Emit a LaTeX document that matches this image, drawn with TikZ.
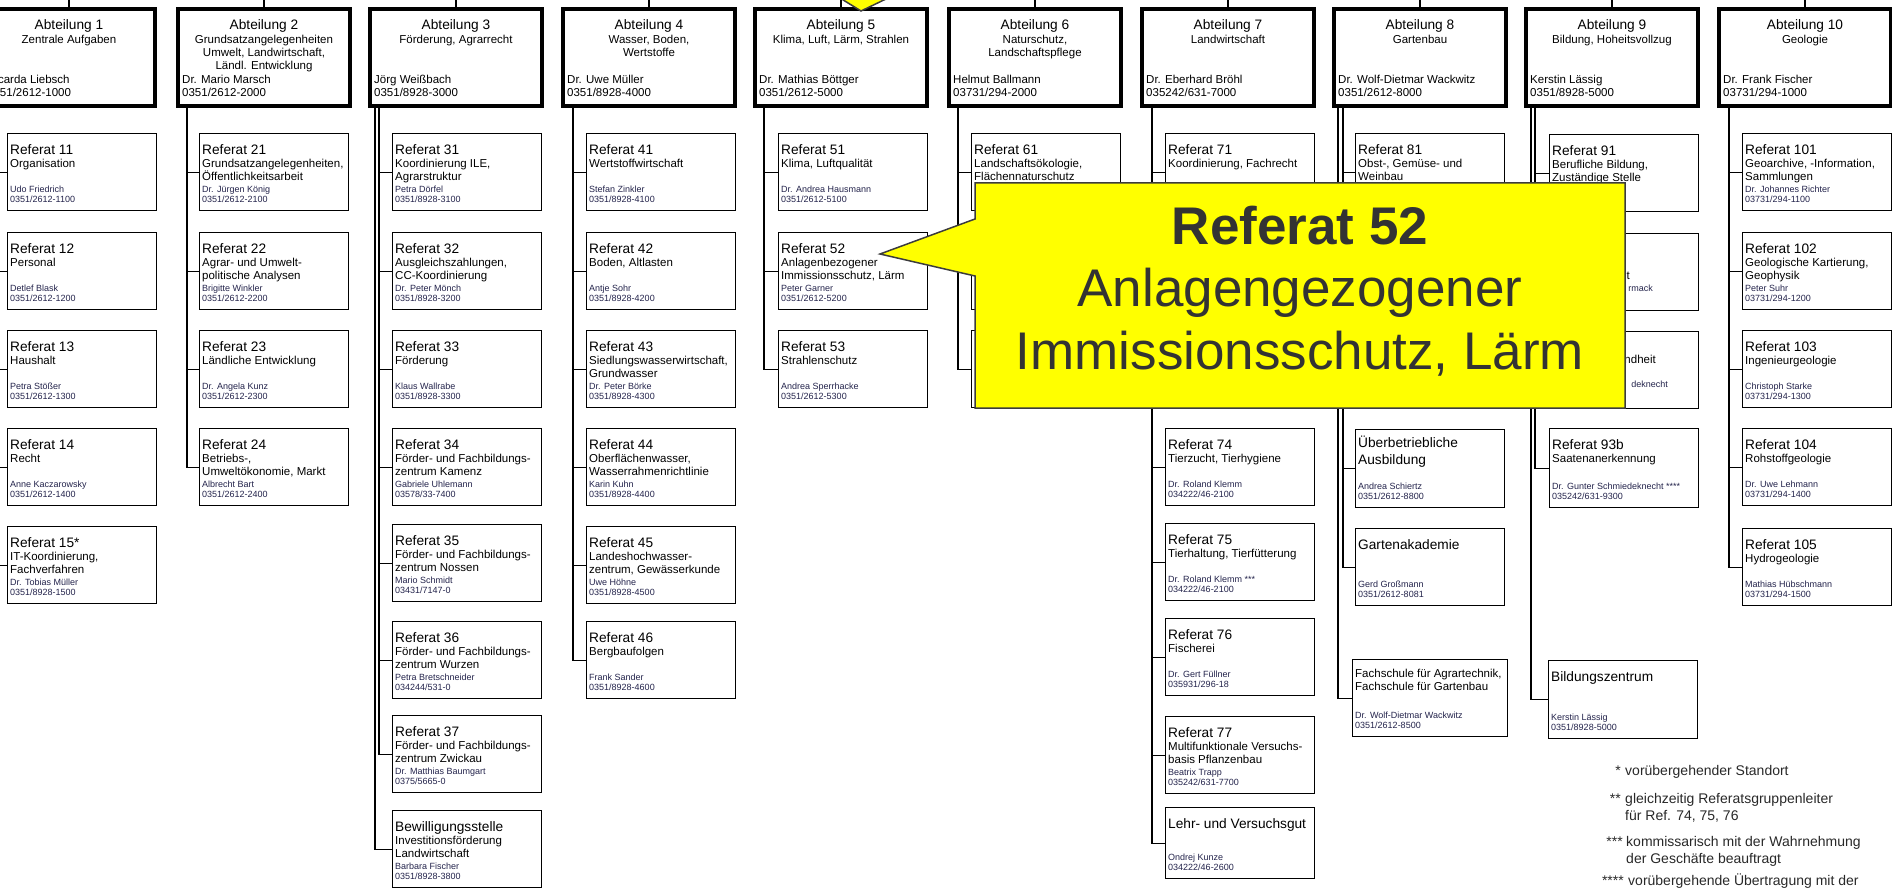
\documentclass[tikz,border=0pt]{standalone}
\usepackage{fontspec}
\setmainfont{Liberation Sans}

\definecolor{perscol}{RGB}{35,35,75}
\definecolor{calloutyellow}{RGB}{255,255,0}
\definecolor{calloutedge}{RGB}{60,60,60}
\definecolor{calltxt}{RGB}{51,51,51}
\definecolor{notecol}{RGB}{40,40,40}

\newcommand{\titfont}{\fontsize{13.7}{13.2}\selectfont}
\newcommand{\reffont}{\fontsize{11.5}{13.2}\selectfont}
\newcommand{\persfont}{\fontsize{9}{10}\selectfont}

\begin{document}
\begin{tikzpicture}[x=1pt,y=-1pt,
 abt/.style={draw,line width=4pt,minimum width=172,minimum height=97,anchor=north west,inner sep=0pt},
 abthead/.style={anchor=north,yshift=-12.5,inner sep=0pt,align=center,font=\fontsize{11.5}{13.4}\selectfont},
 abtname/.style={anchor=south west,xshift=6,yshift=11,inner sep=0pt,align=left,font=\fontsize{11.5}{13.4}\selectfont},
 refbox/.style={draw,line width=1.3pt,minimum width=149,minimum height=77,anchor=north west,inner sep=0pt},
 refhead/.style={anchor=north west,xshift=3,yshift=-11,inner sep=0pt,align=left,font=\reffont},
 refpers/.style={anchor=south west,xshift=3,yshift=9,inner sep=0pt,align=left,font=\persfont,text=perscol},
 conn/.style={line width=1.2pt},
 bubble/.style={fill=calloutyellow,draw=calloutedge,line width=1.5pt},
 bubbletext/.style={anchor=base,inner sep=0pt,text=calltxt,font=\fontsize{53}{62}\selectfont},
 note/.style={inner sep=0pt,text=notecol,font=\fontsize{14}{17}\selectfont,align=left}]
\useasboundingbox (0,0) rectangle (1892,890);

\coordinate (top) at (0,-3);
\coordinate (s1) at (-2,0);
\coordinate (s2) at (187,0);
\coordinate (s3a) at (379,0);
\coordinate (s3b) at (375,0);
\coordinate (s4) at (573,0);
\coordinate (s5) at (764,0);
\coordinate (s6) at (958,0);
\coordinate (s7) at (1152,0);
\coordinate (s8a) at (1343,0);
\coordinate (s8b) at (1338,0);
\coordinate (s9a) at (1535,0);
\coordinate (s9b) at (1531,0);
\coordinate (s10) at (1729,0);

%Abteilung 1
\node[abt] (a1) at (-19,7) {};
\node[abthead] (a1h) at (a1.north) {{\titfont Abteilung 1}\\Zentrale Aufgaben};
\node[abtname] (a1n) at (a1.south west) {Ricarda Liebsch\\0351/2612-1000};
\node[refbox] (r11) at (7,133) {};
\node[refhead] (r11h) at (r11.north west) {{\titfont Referat 11}\\Organisation};
\node[refpers] (r11p) at (r11.south west) {Udo Friedrich\\0351/2612-1100};
\node[refbox] (r12) at (7,232) {};
\node[refhead] (r12h) at (r12.north west) {{\titfont Referat 12}\\Personal};
\node[refpers] (r12p) at (r12.south west) {Detlef Blask\\0351/2612-1200};
\node[refbox] (r13) at (7,330) {};
\node[refhead] (r13h) at (r13.north west) {{\titfont Referat 13}\\Haushalt};
\node[refpers] (r13p) at (r13.south west) {Petra Stößer\\0351/2612-1300};
\node[refbox] (r14) at (7,428) {};
\node[refhead] (r14h) at (r14.north west) {{\titfont Referat 14}\\Recht};
\node[refpers] (r14p) at (r14.south west) {Anne Kaczarowsky\\0351/2612-1400};
\node[refbox] (r15) at (7,526) {};
\node[refhead] (r15h) at (r15.north west) {{\titfont Referat 15*}\\IT-Koordinierung,\\Fachverfahren};
\node[refpers] (r15p) at (r15.south west) {Dr. Tobias Müller\\0351/8928-1500};
\draw[conn] (a1.north) -- (a1.north |- top);
\foreach \r in {r11,r12,r13,r14,r15} \draw[conn] (s1 |- a1.south) |- (\r.west);

%Abteilung 2
\node[abt] (a2) at (176,7) {};
\node[abthead] (a2h) at (a2.north) {{\titfont Abteilung 2}\\Grundsatzangelegenheiten\\Umwelt, Landwirtschaft,\\Ländl. Entwicklung};
\node[abtname] (a2n) at (a2.south west) {Dr. Mario Marsch\\0351/2612-2000};
\node[refbox] (r21) at (199,133) {};
\node[refhead] (r21h) at (r21.north west) {{\titfont Referat 21}\\Grundsatzangelegenheiten,\\Öffentlichkeitsarbeit};
\node[refpers] (r21p) at (r21.south west) {Dr. Jürgen König\\0351/2612-2100};
\node[refbox] (r22) at (199,232) {};
\node[refhead] (r22h) at (r22.north west) {{\titfont Referat 22}\\Agrar- und Umwelt-\\politische Analysen};
\node[refpers] (r22p) at (r22.south west) {Brigitte Winkler\\0351/2612-2200};
\node[refbox] (r23) at (199,330) {};
\node[refhead] (r23h) at (r23.north west) {{\titfont Referat 23}\\Ländliche Entwicklung};
\node[refpers] (r23p) at (r23.south west) {Dr. Angela Kunz\\0351/2612-2300};
\node[refbox] (r24) at (199,428) {};
\node[refhead] (r24h) at (r24.north west) {{\titfont Referat 24}\\Betriebs-,\\Umweltökonomie, Markt};
\node[refpers] (r24p) at (r24.south west) {Albrecht Bart\\0351/2612-2400};
\draw[conn] (a2.north) -- (a2.north |- top);
\foreach \r in {r21,r22,r23,r24} \draw[conn] (s2 |- a2.south) |- (\r.west);

%Abteilung 3
\node[abt] (a3) at (368,7) {};
\node[abthead] (a3h) at (a3.north) {{\titfont Abteilung 3}\\Förderung, Agrarrecht};
\node[abtname] (a3n) at (a3.south west) {Jörg Weißbach\\0351/8928-3000};
\node[refbox] (r31) at (392,133) {};
\node[refhead] (r31h) at (r31.north west) {{\titfont Referat 31}\\Koordinierung ILE,\\Agrarstruktur};
\node[refpers] (r31p) at (r31.south west) {Petra Dörfel\\0351/8928-3100};
\node[refbox] (r32) at (392,232) {};
\node[refhead] (r32h) at (r32.north west) {{\titfont Referat 32}\\Ausgleichszahlungen,\\CC-Koordinierung};
\node[refpers] (r32p) at (r32.south west) {Dr. Peter Mönch\\0351/8928-3200};
\node[refbox] (r33) at (392,330) {};
\node[refhead] (r33h) at (r33.north west) {{\titfont Referat 33}\\Förderung};
\node[refpers] (r33p) at (r33.south west) {Klaus Wallrabe\\0351/8928-3300};
\node[refbox] (r34) at (392,428) {};
\node[refhead] (r34h) at (r34.north west) {{\titfont Referat 34}\\Förder- und Fachbildungs-\\zentrum Kamenz};
\node[refpers] (r34p) at (r34.south west) {Gabriele Uhlemann\\03578/33-7400};
\node[refbox] (r35) at (392,524) {};
\node[refhead] (r35h) at (r35.north west) {{\titfont Referat 35}\\Förder- und Fachbildungs-\\zentrum Nossen};
\node[refpers] (r35p) at (r35.south west) {Mario Schmidt\\03431/7147-0};
\node[refbox] (r36) at (392,621) {};
\node[refhead] (r36h) at (r36.north west) {{\titfont Referat 36}\\Förder- und Fachbildungs-\\zentrum Wurzen};
\node[refpers] (r36p) at (r36.south west) {Petra Bretschneider\\034244/531-0};
\node[refbox] (r37) at (392,715) {};
\node[refhead] (r37h) at (r37.north west) {{\titfont Referat 37}\\Förder- und Fachbildungs-\\zentrum Zwickau};
\node[refpers] (r37p) at (r37.south west) {Dr. Matthias Baumgart\\0375/5665-0};
\node[refbox] (bew) at (392,810) {};
\node[refhead] (bewh) at (bew.north west) {{\titfont Bewilligungsstelle}\\Investitionsförderung\\Landwirtschaft};
\node[refpers] (bewp) at (bew.south west) {Barbara Fischer\\0351/8928-3800};
\draw[conn] (a3.north) -- (a3.north |- top);
\foreach \r in {r31,r32,r33,r34,r35,r36,r37} \draw[conn] (s3a |- a3.south) |- (\r.west);
\draw[conn] (s3b |- a3.south) |- (bew.west);

%Abteilung 4
\node[abt] (a4) at (561,7) {};
\node[abthead] (a4h) at (a4.north) {{\titfont Abteilung 4}\\Wasser, Boden,\\Wertstoffe};
\node[abtname] (a4n) at (a4.south west) {Dr. Uwe Müller\\0351/8928-4000};
\node[refbox] (r41) at (586,133) {};
\node[refhead] (r41h) at (r41.north west) {{\titfont Referat 41}\\Wertstoffwirtschaft};
\node[refpers] (r41p) at (r41.south west) {Stefan Zinkler\\0351/8928-4100};
\node[refbox] (r42) at (586,232) {};
\node[refhead] (r42h) at (r42.north west) {{\titfont Referat 42}\\Boden, Altlasten};
\node[refpers] (r42p) at (r42.south west) {Antje Sohr\\0351/8928-4200};
\node[refbox] (r43) at (586,330) {};
\node[refhead] (r43h) at (r43.north west) {{\titfont Referat 43}\\Siedlungswasserwirtschaft,\\Grundwasser};
\node[refpers] (r43p) at (r43.south west) {Dr. Peter Börke\\0351/8928-4300};
\node[refbox] (r44) at (586,428) {};
\node[refhead] (r44h) at (r44.north west) {{\titfont Referat 44}\\Oberflächenwasser,\\Wasserrahmenrichtlinie};
\node[refpers] (r44p) at (r44.south west) {Karin Kuhn\\0351/8928-4400};
\node[refbox] (r45) at (586,526) {};
\node[refhead] (r45h) at (r45.north west) {{\titfont Referat 45}\\Landeshochwasser-\\zentrum, Gewässerkunde};
\node[refpers] (r45p) at (r45.south west) {Uwe Höhne\\0351/8928-4500};
\node[refbox] (r46) at (586,621) {};
\node[refhead] (r46h) at (r46.north west) {{\titfont Referat 46}\\Bergbaufolgen};
\node[refpers] (r46p) at (r46.south west) {Frank Sander\\0351/8928-4600};
\draw[conn] (a4.north) -- (a4.north |- top);
\foreach \r in {r41,r42,r43,r44,r45,r46} \draw[conn] (s4 |- a4.south) |- (\r.west);

%Abteilung 5
\node[abt] (a5) at (753,7) {};
\node[abthead] (a5h) at (a5.north) {{\titfont Abteilung 5}\\Klima, Luft, Lärm, Strahlen};
\node[abtname] (a5n) at (a5.south west) {Dr. Mathias Böttger\\0351/2612-5000};
\node[refbox] (r51) at (778,133) {};
\node[refhead] (r51h) at (r51.north west) {{\titfont Referat 51}\\Klima, Luftqualität};
\node[refpers] (r51p) at (r51.south west) {Dr. Andrea Hausmann\\0351/2612-5100};
\node[refbox] (r52) at (778,232) {};
\node[refhead] (r52h) at (r52.north west) {{\titfont Referat 52}\\Anlagenbezogener\\Immissionsschutz, Lärm};
\node[refpers] (r52p) at (r52.south west) {Peter Garner\\0351/2612-5200};
\node[refbox] (r53) at (778,330) {};
\node[refhead] (r53h) at (r53.north west) {{\titfont Referat 53}\\Strahlenschutz};
\node[refpers] (r53p) at (r53.south west) {Andrea Sperrhacke\\0351/2612-5300};
\draw[conn] (a5.north) -- (a5.north |- top);
\foreach \r in {r51,r52,r53} \draw[conn] (s5 |- a5.south) |- (\r.west);

%Abteilung 6
\node[abt] (a6) at (947,7) {};
\node[abthead] (a6h) at (a6.north) {{\titfont Abteilung 6}\\Naturschutz,\\Landschaftspflege};
\node[abtname] (a6n) at (a6.south west) {Helmut Ballmann\\03731/294-2000};
\node[refbox] (r61) at (971,133) {};
\node[refhead] (r61h) at (r61.north west) {{\titfont Referat 61}\\Landschaftsökologie,\\Flächennaturschutz};
\node[refbox] (r62) at (971,232) {};
\node[refbox] (r63) at (971,330) {};
\draw[conn] (a6.north) -- (a6.north |- top);
\foreach \r in {r61,r62,r63} \draw[conn] (s6 |- a6.south) |- (\r.west);

%Abteilung 7
\node[abt] (a7) at (1140,7) {};
\node[abthead] (a7h) at (a7.north) {{\titfont Abteilung 7}\\Landwirtschaft};
\node[abtname] (a7n) at (a7.south west) {Dr. Eberhard Bröhl\\035242/631-7000};
\node[refbox] (r71) at (1165,133) {};
\node[refhead] (r71h) at (r71.north west) {{\titfont Referat 71}\\Koordinierung, Fachrecht};
\node[refbox] (r72) at (1165,232) {};
\node[refbox] (r73) at (1165,330) {};
\node[refbox] (r74) at (1165,428) {};
\node[refhead] (r74h) at (r74.north west) {{\titfont Referat 74}\\Tierzucht, Tierhygiene};
\node[refpers] (r74p) at (r74.south west) {Dr. Roland Klemm\\034222/46-2100};
\node[refbox] (r75) at (1165,523) {};
\node[refhead] (r75h) at (r75.north west) {{\titfont Referat 75}\\Tierhaltung, Tierfütterung};
\node[refpers] (r75p) at (r75.south west) {Dr. Roland Klemm ***\\034222/46-2100};
\node[refbox] (r76) at (1165,618) {};
\node[refhead] (r76h) at (r76.north west) {{\titfont Referat 76}\\Fischerei};
\node[refpers] (r76p) at (r76.south west) {Dr. Gert Füllner\\035931/296-18};
\node[refbox] (r77) at (1165,716) {};
\node[refhead] (r77h) at (r77.north west) {{\titfont Referat 77}\\Multifunktionale Versuchs-\\basis Pflanzenbau};
\node[refpers] (r77p) at (r77.south west) {Beatrix Trapp\\035242/631-7700};
\node[refbox,minimum height=71] (lvg) at (1165,807) {};
\node[refhead] (lvgh) at (lvg.north west) {{\titfont Lehr- und Versuchsgut}};
\node[refpers] (lvgp) at (lvg.south west) {Ondrej Kunze\\034222/46-2600};
\draw[conn] (a7.north) -- (a7.north |- top);
\foreach \r in {r71,r72,r73,r74,r75,r76,r77,lvg} \draw[conn] (s7 |- a7.south) |- (\r.west);

%Abteilung 8
\node[abt] (a8) at (1332,7) {};
\node[abthead] (a8h) at (a8.north) {{\titfont Abteilung 8}\\Gartenbau};
\node[abtname] (a8n) at (a8.south west) {Dr. Wolf-Dietmar Wackwitz\\0351/2612-8000};
\node[refbox] (r81) at (1355,133) {};
\node[refhead] (r81h) at (r81.north west) {{\titfont Referat 81}\\Obst-, Gemüse- und\\Weinbau};
\node[refbox] (r82) at (1355,232) {};
\node[refbox] (r83) at (1355,330) {};
\node[refbox,minimum height=78] (ueb) at (1355,429) {};
\node[refhead,yshift=4] (uebh) at (ueb.north west) {{\titfont Überbetriebliche}\\[3.5pt]{\titfont Ausbildung}};
\node[refpers] (uebp) at (ueb.south west) {Andrea Schiertz\\0351/2612-8800};
\node[refbox] (gak) at (1355,528) {};
\node[refhead] (gakh) at (gak.north west) {{\titfont Gartenakademie}};
\node[refpers] (gakp) at (gak.south west) {Gerd Großmann\\0351/2612-8081};
\node[refbox,minimum width=155] (fs) at (1352,659) {};
\node[refhead,yshift=1] (fsh) at (fs.north west) {Fachschule für Agrartechnik,\\Fachschule für Gartenbau};
\node[refpers] (fsp) at (fs.south west) {Dr. Wolf-Dietmar Wackwitz\\0351/2612-8500};
\draw[conn] (a8.north) -- (a8.north |- top);
\foreach \r in {r81,r82,r83,ueb,gak} \draw[conn] (s8a |- a8.south) |- (\r.west);
\draw[conn] (s8b |- a8.south) |- (fs.west);

%Abteilung 9
\node[abt] (a9) at (1524,7) {};
\node[abthead] (a9h) at (a9.north) {{\titfont Abteilung 9}\\Bildung, Hoheitsvollzug};
\node[abtname] (a9n) at (a9.south west) {Kerstin Lässig\\0351/8928-5000};
\node[refbox] (r91) at (1549,134) {};
\node[refhead] (r91h) at (r91.north west) {{\titfont Referat 91}\\Berufliche Bildung,\\Zuständige Stelle};
\node[refbox] (r92) at (1549,233) {};
\node[anchor=base east,inner sep=0pt,font=\reffont] (r92h) at (1630,280) {t};
\node[anchor=base east,inner sep=0pt,font=\persfont,text=perscol] (r92p) at (1653,292) {rmack};
\node[refbox] (r93) at (1549,331) {};
\node[anchor=base east,inner sep=0pt,font=\reffont] (r93h) at (1656,363) {ndheit};
\node[anchor=base east,inner sep=0pt,font=\persfont,text=perscol] (r93p) at (1668,387) {deknecht};
\node[refbox,minimum height=79] (r93b) at (1549,428) {};
\node[refhead] (r93bh) at (r93b.north west) {{\titfont Referat 93b}\\Saatenanerkennung};
\node[refpers] (r93bp) at (r93b.south west) {Dr. Gunter Schmiedeknecht ****\\035242/631-9300};
\node[refbox,minimum height=78] (bz) at (1548,660) {};
\node[refhead] (bzh) at (bz.north west) {{\titfont Bildungszentrum}};
\node[refpers] (bzp) at (bz.south west) {Kerstin Lässig\\0351/8928-5000};
\draw[conn] (a9.north) -- (a9.north |- top);
\foreach \r in {r91,r92,r93,r93b} \draw[conn] (s9a |- a9.south) |- (\r.west);
\draw[conn] (s9b |- a9.south) |- (bz.west);

%Abteilung 10
\node[abt] (a10) at (1717,7) {};
\node[abthead] (a10h) at (a10.north) {{\titfont Abteilung 10}\\Geologie};
\node[abtname] (a10n) at (a10.south west) {Dr. Frank Fischer\\03731/294-1000};
\node[refbox] (r101) at (1742,133) {};
\node[refhead] (r101h) at (r101.north west) {{\titfont Referat 101}\\Geoarchive, -Information,\\Sammlungen};
\node[refpers] (r101p) at (r101.south west) {Dr. Johannes Richter\\03731/294-1100};
\node[refbox] (r102) at (1742,232) {};
\node[refhead] (r102h) at (r102.north west) {{\titfont Referat 102}\\Geologische Kartierung,\\Geophysik};
\node[refpers] (r102p) at (r102.south west) {Peter Suhr\\03731/294-1200};
\node[refbox] (r103) at (1742,330) {};
\node[refhead] (r103h) at (r103.north west) {{\titfont Referat 103}\\Ingenieurgeologie};
\node[refpers] (r103p) at (r103.south west) {Christoph Starke\\03731/294-1300};
\node[refbox] (r104) at (1742,428) {};
\node[refhead] (r104h) at (r104.north west) {{\titfont Referat 104}\\Rohstoffgeologie};
\node[refpers] (r104p) at (r104.south west) {Dr. Uwe Lehmann\\03731/294-1400};
\node[refbox] (r105) at (1742,528) {};
\node[refhead] (r105h) at (r105.north west) {{\titfont Referat 105}\\Hydrogeologie};
\node[refpers] (r105p) at (r105.south west) {Mathias Hübschmann\\03731/294-1500};
\draw[conn] (a10.north) -- (a10.north |- top);
\foreach \r in {r101,r102,r103,r104,r105} \draw[conn] (s10 |- a10.south) |- (\r.west);

%Callout pointing down at Abteilung 5
\draw[bubble] (840,-2) -- (861,11) -- (888,-2);
%Callout Referat 52
\draw[bubble] (975,183) -- (1625,183) -- (1625,408) -- (975,408) -- (975,276) -- (880,254) -- (975,219) -- cycle;
\node[bubbletext,font=\fontsize{53}{62}\selectfont\bfseries] (c1) at (1300,245) {Referat 52};
\node[bubbletext] (c2) at (1300,307) {Anlagengezogener};
\node[bubbletext] (c3) at (1300,370) {Immissionsschutz, Lärm};

%Footnotes
\node[note,anchor=base east] (n1s) at (1621,775) {*};
\node[note,anchor=base west] (n1) at (1625,775) {vorübergehender Standort};
\node[note,anchor=base east] (n2s) at (1621,803) {**};
\node[note,anchor=north west] (n2) at (1625,792.8) {gleichzeitig Referatsgruppenleiter\\für Ref. 74, 75, 76};
\node[note,anchor=base east] (n3s) at (1623,846) {***};
\node[note,anchor=north west] (n3) at (1626,835.8) {kommissarisch mit der Wahrnehmung\\der Geschäfte beauftragt};
\node[note,anchor=base east] (n4s) at (1624,885) {****};
\node[note,anchor=base west] (n4) at (1628,885) {vorübergehende Übertragung mit der};

\end{tikzpicture}
\end{document}
